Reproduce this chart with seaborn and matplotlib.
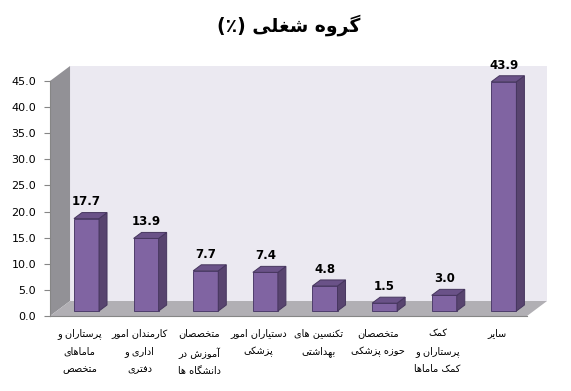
import matplotlib
matplotlib.use("Agg")
import matplotlib.pyplot as plt
import seaborn as sns
import pandas as pd
from matplotlib.patches import Polygon, Rectangle

# data
groups = [
    ["پرستاران و", "ماماهای", "متخصص"],
    ["کارمندان امور", "اداری و", "دفتری"],
    ["متخصصان", "آموزش در", "دانشگاه ها"],
    ["دستیاران امور", "پزشکی"],
    ["تکنسین های", "بهداشتی"],
    ["متخصصان", "حوزه پزشکی"],
    ["کمک", "پرستاران و", "کمک ماماها"],
    ["سایر"],
]
values = [17.7, 13.9, 7.7, 7.4, 4.8, 1.5, 3.0, 43.9]
title = "گروه شغلی (٪)"
yticks = [0, 5, 10, 15, 20, 25, 30, 35, 40, 45]

# simple arabic/persian shaping (matplotlib has no RTL layout)
FORMS = {
    "ا": ("\uFE8D", "\uFE8E", None, None),
    "آ": ("\uFE81", "\uFE82", None, None),
    "ب": ("\uFE8F", "\uFE90", "\uFE91", "\uFE92"),
    "پ": ("\uFB56", "\uFB57", "\uFB58", "\uFB59"),
    "ت": ("\uFE95", "\uFE96", "\uFE97", "\uFE98"),
    "ح": ("\uFEA1", "\uFEA2", "\uFEA3", "\uFEA4"),
    "خ": ("\uFEA5", "\uFEA6", "\uFEA7", "\uFEA8"),
    "د": ("\uFEA9", "\uFEAA", None, None),
    "ر": ("\uFEAD", "\uFEAE", None, None),
    "ز": ("\uFEAF", "\uFEB0", None, None),
    "س": ("\uFEB1", "\uFEB2", "\uFEB3", "\uFEB4"),
    "ش": ("\uFEB5", "\uFEB6", "\uFEB7", "\uFEB8"),
    "ص": ("\uFEB9", "\uFEBA", "\uFEBB", "\uFEBC"),
    "غ": ("\uFECD", "\uFECE", "\uFECF", "\uFED0"),
    "ف": ("\uFED1", "\uFED2", "\uFED3", "\uFED4"),
    "ک": ("\uFB8E", "\uFB8F", "\uFB90", "\uFB91"),
    "گ": ("\uFB92", "\uFB93", "\uFB94", "\uFB95"),
    "ل": ("\uFEDD", "\uFEDE", "\uFEDF", "\uFEE0"),
    "م": ("\uFEE1", "\uFEE2", "\uFEE3", "\uFEE4"),
    "ن": ("\uFEE5", "\uFEE6", "\uFEE7", "\uFEE8"),
    "ه": ("\uFEE9", "\uFEEA", "\uFEEB", "\uFEEC"),
    "و": ("\uFEED", "\uFEEE", None, None),
    "ی": ("\uFBFC", "\uFBFD", "\uFBFE", "\uFBFF"),
}


def shape(text):
    out = []
    for i, c in enumerate(text):
        if c not in FORMS:
            out.append(c)
            continue
        iso, fin, ini, med = FORMS[c]
        prev = text[i - 1] if i > 0 else ""
        nxt = text[i + 1] if i + 1 < len(text) else ""
        jp = prev in FORMS and FORMS[prev][2] is not None
        jn = ini is not None and nxt in FORMS
        if jp and jn:
            out.append(med)
        elif jp:
            out.append(fin)
        elif jn:
            out.append(ini)
        else:
            out.append(iso)
    s = "".join(out)[::-1]
    return s.translate(str.maketrans("()", ")("))


labels = ["\n".join(shape(l) for l in g) for g in groups]
df = pd.DataFrame({"group": [" ".join(g) for g in groups], "value": values})

sns.set_style("white")
plt.rcParams["font.family"] = ["DejaVu Sans"]
plt.rcParams["text.color"] = "black"
plt.rcParams["xtick.color"] = "black"
plt.rcParams["ytick.color"] = "black"

fig = plt.figure(figsize=(5.71, 3.91), dpi=100)
ax = fig.add_axes([50 / 571, 1 - 316 / 391, 477 / 571, 235 / 391])

sns.barplot(data=df, x="group", y="value", width=0.42, color="#8064A2",
            saturation=1, ax=ax, zorder=3, edgecolor="#4E3D6C", linewidth=0.7)
bars = [p for p in ax.patches if isinstance(p, Rectangle)]

# 3d depth (in data units)
DX, DY = 0.336, 2.87
n = len(values)
x_l, x_r, top = -0.5, n - 0.5, 45

ax.add_patch(Polygon([(x_l + DX, DY), (x_r + DX, DY), (x_r + DX, top + DY), (x_l + DX, top + DY)],
                     closed=True, fc="#EBE9F1", ec="none", zorder=0, clip_on=False))
ax.add_patch(Polygon([(x_l, 0), (x_l + DX, DY), (x_l + DX, top + DY), (x_l, top)],
                     closed=True, fc="#929196", ec="none", zorder=0.5, clip_on=False))
ax.add_patch(Polygon([(x_l, 0), (x_r, 0), (x_r + DX, DY), (x_l + DX, DY)],
                     closed=True, fc="#B1AFB4", ec="none", zorder=0.5, clip_on=False))

sx, sy = DX / 3, DY / 3
bx, by = DX * 0.4, DY * 0.4
for p, v in zip(bars, values):
    x0 = p.get_x() + sx
    w = p.get_width()
    p.set_x(x0)
    p.set_y(sy)
    x1 = x0 + w
    ax.add_patch(Polygon([(x1, sy), (x1 + bx, sy + by), (x1 + bx, sy + by + v), (x1, sy + v)],
                         closed=True, fc="#58446F", ec="#46365E", lw=0.7, zorder=3, clip_on=False))
    ax.add_patch(Polygon([(x0, sy + v), (x1, sy + v), (x1 + bx, sy + v + by), (x0 + bx, sy + v + by)],
                         closed=True, fc="#6A5288", ec="#46365E", lw=0.7, zorder=3, clip_on=False))
    ax.text(x0 + w / 2, sy + v + by + 0.8, f"{v:.1f}", ha="center", va="bottom",
            fontsize=8.5, fontweight="bold", color="black")

ax.set_xlim(x_l, x_r)
ax.set_ylim(0, top)
ax.set_yticks(yticks)
ax.set_yticklabels([f"{t:.1f}" for t in yticks], fontsize=8)
ax.set_xticks(range(n))
ax.set_xticklabels(labels, fontsize=7, multialignment="center", linespacing=1.9)
ax.set_xticks([i - 0.5 for i in range(n + 1)], minor=True)
ax.tick_params(axis="x", which="major", length=0, pad=9)
ax.tick_params(axis="x", which="minor", length=4, color="#868686", direction="out")
ax.tick_params(axis="y", length=4, color="#868686", direction="out", left=True, pad=6)
ax.set_xlabel("")
ax.set_ylabel("")
for s in ["top", "right"]:
    ax.spines[s].set_visible(False)
for s in ["left", "bottom"]:
    ax.spines[s].set_color("#868686")
    ax.spines[s].set_linewidth(0.8)
    ax.spines[s].set_zorder(5)
ax.patch.set_alpha(0)

fig.text(0.505, 0.936, shape(title), ha="center", va="center",
         fontsize=13.5, fontweight="bold", color="black")

fig.savefig("out.png", dpi=100, facecolor="white")
